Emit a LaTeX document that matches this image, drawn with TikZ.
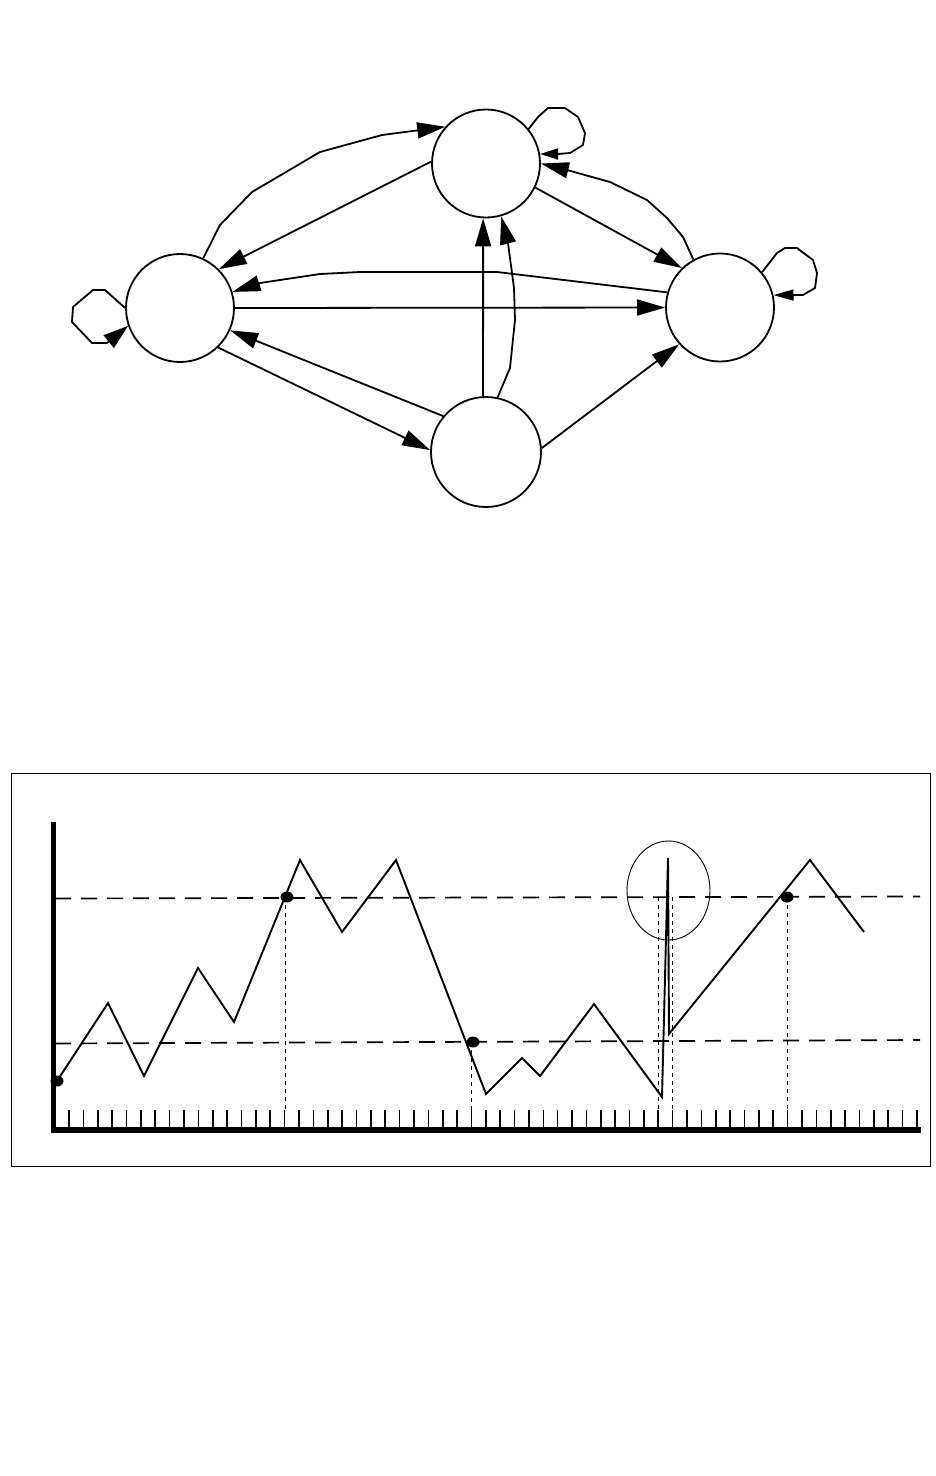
\documentclass[tikz,border=0pt]{standalone}
\usetikzlibrary{arrows.meta}
\begin{document}
\begin{tikzpicture}[x=1pt,y=-1pt,
  state/.style={circle,draw,line width=1.8pt,minimum size=108pt,inner sep=0pt},
  edge/.style={line width=1.8pt,line join=round},
  arr/.style={edge,-{Triangle[length=28pt,width=16pt]}},
  looparrT/.style={edge,-{Triangle[length=18pt,width=11pt]}},
  looparrR/.style={edge,-{Triangle[length=20pt,width=11pt]}},
  looparrL/.style={edge,-{Triangle[length=25pt,width=16pt]}},
  frame/.style={line width=1pt},
  tick/.style={line width=1.6pt},
  level/.style={line width=1.7pt,dash pattern=on 16pt off 10pt},
  guide/.style={line width=1pt,dash pattern=on 4pt off 4pt},
  signal/.style={line width=1.9pt,line join=miter},
  dot/.style={fill=black}]
\fill[white] (0,0) rectangle (936,1476);
\useasboundingbox (0,0) rectangle (936,1476);

% ---------- state graph ----------
\node[state] (T) at (486,163.5) {};
\node[state] (L) at (180,308) {};
\node[state] (R) at (720,307.5) {};
\node[state,minimum size=110pt] (B) at (486,452) {};

\draw[arr] (L.65) -- (220,225) -- (252,192) -- (320,152) -- (382,135) -- (T.138);
\draw[arr] (T.178) -- (L.45);
\draw[looparrT] (T.39) -- (538,117) -- (548,108) -- (565,108) -- (578,117) -- (585,133) -- (583,145) -- (570,153) -- (558,154) -- (T.10);
\draw[arr] (T.-26) -- (R.134);
\draw[arr] (R.119) -- (683,237) -- (667,218) -- (647,200) -- (610,182) -- (567,170) -- (T.0);
\draw[arr] (R.164) -- (497,272) -- (360,272) -- (320,274) -- (260,283) -- (L.17);
\draw[arr] (L.0) -- (R.180);
\draw[looparrR] (R.40) -- (777,253) -- (785,248) -- (797,248) -- (813,260) -- (817,273) -- (815,288) -- (803,295) -- (793,295) -- (R.13);
\draw[looparrL] (L.180) -- (105,290) -- (93,290) -- (73,307) -- (72,322) -- (92,343) -- (107,343) -- (L.199);
\draw[arr] (B.140) -- (L.-24);
\draw[arr] (L.-46) -- (B.178);
\draw[arr] (B.93) -- (T.267);
\draw[arr] (B.78) -- (510,368) -- (515,320) -- (514,288) -- (508,243) -- (T.-74);
\draw[arr] (B.4) -- (R.222);

% ---------- chart ----------
\draw[frame] (11,773) rectangle (930,1166);
\draw[level] (55,898.5) -- (920,896.5);
\draw[level] (55,1043.5) -- (920,1040);
\foreach \j in {0,...,59}
  \draw[tick] ({69+\j*14.373},1110) -- ({69+\j*14.373},1127);
\draw[guide] (285,897) -- (285,1110);
\draw[guide] (471.5,1042) -- (471.5,1110);
\draw[guide] (658.3,897) -- (658.3,1110);
\draw[guide] (672.7,897) -- (672.7,1110);
\draw[guide] (787.7,897) -- (787.7,1110);
\draw[line width=5pt] (53.5,822) -- (53.5,1132.7);
\draw[line width=6pt] (51,1129.7) -- (920.5,1129.7);
\draw[signal] (57,1081) -- (108,1003) -- (144,1076) -- (198,968) -- (234,1022)
  -- (300,860) -- (342,932) -- (396,860) -- (486,1094) -- (522,1058)
  -- (540,1076) -- (594,1004) -- (662,1097) -- (668,858) -- (669,1034)
  -- (810,860) -- (864,932);
\fill[dot] (57,1081) ellipse [x radius=6.5,y radius=5.5];
\fill[dot] (287,897) ellipse [x radius=6.5,y radius=5.5];
\fill[dot] (473,1042) ellipse [x radius=6.5,y radius=5.5];
\fill[dot] (787,897) ellipse [x radius=6.5,y radius=5.5];
\draw[line width=0.9pt] (668.5,890.5) ellipse [x radius=41.5,y radius=49.5];
\end{tikzpicture}
\end{document}
